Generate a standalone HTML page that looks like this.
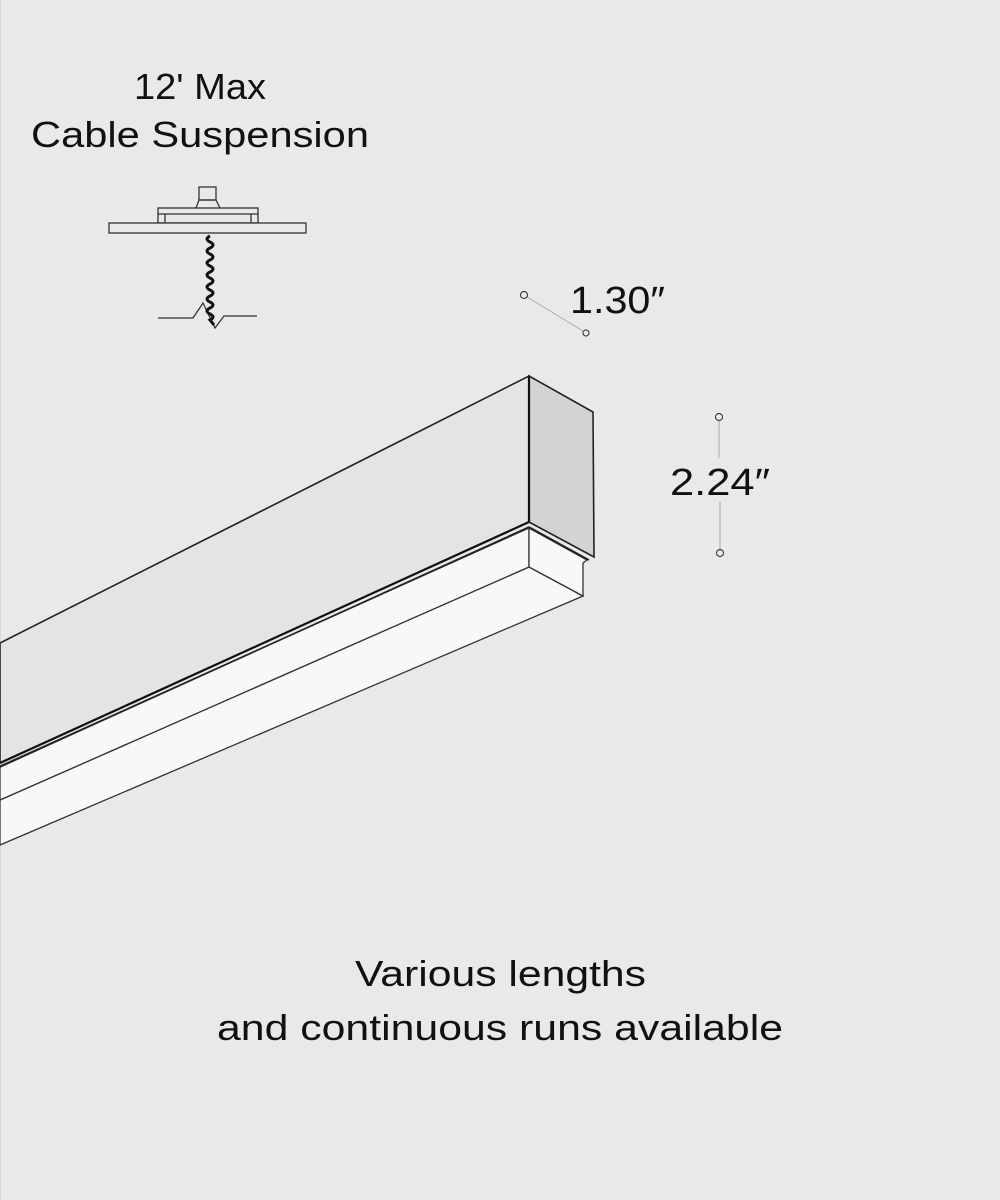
<!DOCTYPE html>
<html><head><meta charset="utf-8"><style>
html,body{margin:0;padding:0;background:#e9e9e9;}
svg{display:block}
text{font-family:"Liberation Sans",sans-serif;fill:#111;}
</style></head><body>
<svg width="1000" height="1200" viewBox="0 0 1000 1200" xmlns="http://www.w3.org/2000/svg">
<rect x="0" y="0" width="1000" height="1200" fill="#e9e9e9"/>
<line x1="0.5" y1="0" x2="0.5" y2="1200" stroke="#d8d8d8"/>
<text x="134" y="99" font-size="36" textLength="132" lengthAdjust="spacingAndGlyphs">12' Max</text>
<text x="31" y="147" font-size="36" textLength="338" lengthAdjust="spacingAndGlyphs">Cable Suspension</text>
<!-- canopy -->
<g fill="none" stroke="#333" stroke-width="1.3">
<rect x="199" y="187" width="17" height="13"/>
<path d="M196 208 L199 200 L216 200 L220 208"/>
<rect x="158" y="208" width="100" height="15"/>
<line x1="158" y1="214" x2="258" y2="214"/>
<line x1="165" y1="214" x2="165" y2="223"/>
<line x1="251" y1="214" x2="251" y2="223"/>
<rect x="109" y="223" width="197" height="10" fill="#e9e9e9"/>
<path d="M158 318 L193 318 L203 303 L215 328 L224 316 L257 316"/>
</g>
<path d="M210 236 q-6 3 0 6 q6 3 0 6 q-6 3 0 6 q6 3 0 6 q-6 3 0 6 q6 3 0 6 q-6 3 0 6 q6 3 0 6 q-6 3 0 6 q6 3 0 6 q-6 3 0 6 q6 3 0 6 q-6 3 0 6 q6 3 0 6 L214 325" fill="none" stroke="#111" stroke-width="3"/>
<!-- fixture -->
<polygon points="0,800 529,567 583,596 0,845" fill="#f8f8f8" stroke="#333" stroke-width="1.3"/>
<polygon points="0,766 529,528 529,567 0,800" fill="#f8f8f8" stroke="#333" stroke-width="1.3"/>
<polygon points="529,528 587,560 583,563 583,596 529,567" fill="#f8f8f8" stroke="#333" stroke-width="1.3"/>
<polygon points="0,643 529,376 529,522 0,763" fill="#e4e4e4" stroke="#222" stroke-width="1.6"/>
<polygon points="529,376 593,412 594,557 529,522" fill="#d3d3d3" stroke="#222" stroke-width="1.6"/>
<line x1="0" y1="767" x2="529" y2="527" stroke="#222" stroke-width="1.6"/>
<line x1="529" y1="527" x2="589" y2="560" stroke="#222" stroke-width="1.6"/>
<line x1="0" y1="763" x2="529" y2="522" stroke="#111" stroke-width="2.2"/>
<line x1="529" y1="376" x2="529" y2="522" stroke="#111" stroke-width="2.2"/>
<!-- dimensions -->
<line x1="524" y1="295" x2="586" y2="333" stroke="#aaa" stroke-width="1"/>
<circle cx="524" cy="295" r="3.5" fill="#eee" stroke="#444" stroke-width="1.2"/>
<circle cx="586" cy="333" r="3" fill="#eee" stroke="#444" stroke-width="1.2"/>
<text x="570" y="313" font-size="38" textLength="95" lengthAdjust="spacingAndGlyphs">1.30″</text>
<line x1="719" y1="417" x2="719" y2="458" stroke="#aaa"/>
<line x1="720" y1="502" x2="720" y2="552" stroke="#aaa"/>
<circle cx="719" cy="417" r="3.5" fill="#eee" stroke="#444" stroke-width="1.2"/>
<circle cx="720" cy="553" r="3.5" fill="#eee" stroke="#444" stroke-width="1.2"/>
<text x="670" y="495" font-size="38" textLength="100" lengthAdjust="spacingAndGlyphs">2.24″</text>
<text x="355" y="986" font-size="36" textLength="291" lengthAdjust="spacingAndGlyphs">Various lengths</text>
<text x="217" y="1040" font-size="36" textLength="566" lengthAdjust="spacingAndGlyphs">and continuous runs available</text>
</svg>
</body></html>
